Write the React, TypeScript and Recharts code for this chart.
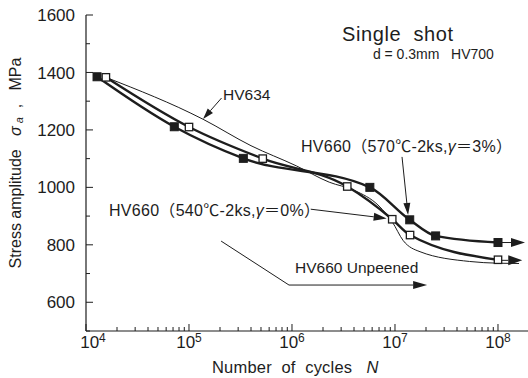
import React from "react";
import { ComposedChart, Line, XAxis, YAxis, ReferenceLine, ReferenceDot } from "recharts";

const INK = "#1d1d1d";
const FONT = "'Liberation Sans', Arial, 'Noto Sans CJK JP', sans-serif";

// HV660 (570°C-2ks, γ=3%) – filled squares
const hv570Cycles = [1.28e4, 7.2e4, 3.37e5, 5.7e6, 1.39e7, 2.48e7, 1e8];
const hv570Stress = [1385, 1211, 1101, 1000, 887, 831, 808];

// HV660 (540°C-2ks, γ=0%) – open squares
const hv540Cycles = [1.56e4, 1e5, 5.2e5, 3.44e6, 9.4e6, 1.4e7, 1e8];
const hv540Stress = [1383, 1210, 1100, 1003, 889, 834, 748];

// HV634 – thin curve, no markers
const hv634Cycles = [1.56e4, 1.37e5, 4e5, 1.1e6, 2.3e6, 4e6, 7e6, 9.4e6, 1.2e7, 1.75e7, 5.3e7, 1e8, 1.6e8];
const hv634Stress = [1383, 1237, 1145, 1075, 1018, 990, 935, 880, 815, 776, 742, 736, 735];

const cycleTicks = [
  1e4, 2e4, 3e4, 4e4, 5e4, 6e4, 7e4, 8e4, 9e4,
  1e5, 2e5, 3e5, 4e5, 5e5, 6e5, 7e5, 8e5, 9e5,
  1e6, 2e6, 3e6, 4e6, 5e6, 6e6, 7e6, 8e6, 9e6,
  1e7, 2e7, 3e7, 4e7, 5e7, 6e7, 7e7, 8e7, 9e7,
  1e8,
];
const stressTicks = [500, 600, 700, 800, 900, 1000, 1100, 1200, 1300, 1400, 1500, 1600];
const stressLabels = [600, 800, 1000, 1200, 1400, 1600];

const zip = (ns: number[], ss: number[]) => ns.map((n, i) => ({ n, s: ss[i] }));
const hv570 = zip(hv570Cycles, hv570Stress);
const hv540 = zip(hv540Cycles, hv540Stress);
const hv634 = zip(hv634Cycles, hv634Stress);

const isDecade = (v: number) => {
  const e = Math.round(Math.log10(v));
  return Math.abs(v - 10 ** e) < v * 1e-6;
};

const BottomTick = ({ x, y, payload }: any) => {
  const v = payload.value;
  const e = Math.round(Math.log10(v));
  const major = isDecade(v);
  return (
    <g>
      <line x1={x} y1={y} x2={x} y2={y - (major ? 7 : 4)} stroke={INK} />
      {major && (
        <text x={x + (e === 4 ? 7 : 0)} y={y + 17} textAnchor="middle" fontSize={17} fill={INK}>
          10<tspan fontSize={12} dy={-6}>{e}</tspan>
        </text>
      )}
    </g>
  );
};

const TopTick = ({ x, y, payload }: any) => (
  <line x1={x} y1={y} x2={x} y2={y + (isDecade(payload.value) ? 6 : 3)} stroke={INK} />
);

const LeftTick = ({ x, y, payload }: any) => {
  const v = payload.value;
  const major = v % 200 === 0;
  return (
    <g>
      <line x1={x} y1={y} x2={x + (major ? 7 : 4)} y2={y} stroke={INK} />
      {stressLabels.includes(v) && (
        <text x={x - 11} y={y} dy="0.36em" textAnchor="end" fontSize={17} fill={INK}>
          {v}
        </text>
      )}
    </g>
  );
};

const RightTick = ({ x, y, payload }: any) => (
  <line x1={x} y1={y} x2={x - (payload.value % 200 === 0 ? 6 : 4)} y2={y} stroke={INK} />
);

const filledSquare = (p: any) => (
  <rect key={`f${p.index}`} x={p.cx - 4} y={p.cy - 4} width={8} height={8} fill={INK} stroke={INK} />
);
const openSquare = (p: any) => (
  <rect key={`o${p.index}`} x={p.cx - 3.7} y={p.cy - 3.7} width={7.4} height={7.4} fill="#fff" stroke={INK} strokeWidth={1.3} />
);

const arrow = (head = 13, half = 4, width = 1) => (p: any) => {
  const { x1, y1, x2, y2 } = p;
  const dx = x2 - x1;
  const dy = y2 - y1;
  const len = Math.hypot(dx, dy) || 1;
  const ux = dx / len;
  const uy = dy / len;
  const bx = x2 - ux * head;
  const by = y2 - uy * head;
  const pts = `${x2},${y2} ${bx - uy * half},${by + ux * half} ${bx + uy * half},${by - ux * half}`;
  return (
    <g>
      <line x1={x1} y1={y1} x2={bx} y2={by} stroke={INK} strokeWidth={width} />
      <polygon points={pts} fill={INK} />
    </g>
  );
};

const plainLine = (p: any) => <line x1={p.x1} y1={p.y1} x2={p.x2} y2={p.y2} stroke={INK} strokeWidth={1} />;

const note = (content: React.ReactNode, size = 15, spacing = 0) => (p: any) => (
  <text x={p.cx} y={p.cy} fontSize={size} letterSpacing={spacing} fill={INK} style={{ whiteSpace: "pre" }}>
    {content}
  </text>
);

const StressLabel = ({ viewBox }: any) => {
  const cx = viewBox.x + 15;
  const cy = viewBox.y + viewBox.height / 2 - 10;
  return (
    <text
      x={cx}
      y={cy}
      transform={`rotate(-90 ${cx} ${cy})`}
      textAnchor="middle"
      dominantBaseline="central"
      fontSize={16}
      fill={INK}
      style={{ whiteSpace: "pre" }}
    >
      {"Stress amplitude   "}
      <tspan fontStyle="italic">σ</tspan>
      <tspan fontStyle="italic" fontSize={11} dy={4}>
        {" a"}
      </tspan>
      <tspan dy={-4}>{"  ,   MPa"}</tspan>
    </text>
  );
};

const CyclesLabel = ({ viewBox }: any) => (
  <text x={viewBox.x + 126} y={viewBox.y + 42} fontSize={16.5} letterSpacing={0.2} fill={INK} style={{ whiteSpace: "pre" }}>
    {"Number  of  cycles   "}
    <tspan fontStyle="italic">N</tspan>
  </text>
);

export default function App() {
  return (
    <div style={{ position: "fixed", left: 0, top: 0, width: 528, height: 378, overflow: "hidden", background: "#fff", fontFamily: FONT }}>
      <ComposedChart width={531} height={378} margin={{ top: 15, right: 2, bottom: 0, left: 0 }}>
        <XAxis
          dataKey="n"
          type="number"
          scale="log"
          domain={[1e4, 2e8]}
          allowDataOverflow
          ticks={cycleTicks}
          interval={0}
          tickSize={0}
          tickMargin={0}
          tick={<BottomTick />}
          height={47}
          axisLine={{ stroke: INK, strokeWidth: 1.2 }}
          label={<CyclesLabel />}
        />
        <XAxis
          xAxisId="top"
          orientation="top"
          dataKey="n"
          type="number"
          scale="log"
          domain={[1e4, 2e8]}
          allowDataOverflow
          ticks={cycleTicks}
          interval={0}
          tickSize={0}
          tickMargin={0}
          tick={<TopTick />}
          height={0}
          axisLine={{ stroke: INK, strokeWidth: 1.2 }}
        />
        <YAxis
          type="number"
          domain={[500, 1600]}
          allowDataOverflow
          ticks={stressTicks}
          interval={0}
          tickSize={0}
          tickMargin={0}
          tick={<LeftTick />}
          width={86}
          axisLine={{ stroke: INK, strokeWidth: 1.2 }}
          label={<StressLabel />}
        />
        <YAxis
          yAxisId="right"
          orientation="right"
          type="number"
          domain={[500, 1600]}
          allowDataOverflow
          ticks={stressTicks}
          interval={0}
          tickSize={0}
          tickMargin={0}
          tick={<RightTick />}
          width={0}
          axisLine={{ stroke: INK, strokeWidth: 1.2 }}
        />

        <Line data={hv634} dataKey="s" type="monotone" stroke={INK} strokeWidth={1} dot={false} isAnimationActive={false} />
        <Line data={hv540} dataKey="s" type="monotone" stroke={INK} strokeWidth={2.4} dot={openSquare} isAnimationActive={false} />
        <Line data={hv570} dataKey="s" type="monotone" stroke={INK} strokeWidth={2.4} dot={filledSquare} isAnimationActive={false} />

        {/* run-out arrows */}
        <ReferenceLine segment={[{ x: 1.04e8, y: 808 }, { x: 1.83e8, y: 808 }]} ifOverflow="visible" shape={arrow(14, 4.5)} />
        <ReferenceLine segment={[{ x: 1.04e8, y: 746 }, { x: 1.72e8, y: 746 }]} ifOverflow="visible" shape={arrow(14, 5)} />

        {/* leaders */}
        <ReferenceLine segment={[{ x: 2.07e5, y: 1311 }, { x: 1.37e5, y: 1238 }]} ifOverflow="visible" shape={arrow(11, 3.5)} />
        <ReferenceLine segment={[{ x: 1.17e7, y: 1106 }, { x: 1.34e7, y: 904 }]} ifOverflow="visible" shape={arrow(12, 3.5)} />
        <ReferenceLine segment={[{ x: 1.52e6, y: 924 }, { x: 8.3e6, y: 892 }]} ifOverflow="visible" shape={arrow(13, 4)} />
        <ReferenceLine segment={[{ x: 2.05e5, y: 813 }, { x: 9.35e5, y: 660 }]} ifOverflow="visible" shape={plainLine} />
        <ReferenceLine segment={[{ x: 9.35e5, y: 660 }, { x: 2.05e7, y: 660 }]} ifOverflow="visible" shape={arrow(14, 4)} />

        {/* text */}
        <ReferenceDot x={3.06e6} y={1510} ifOverflow="visible" shape={note("Single  shot", 20, 0.6)} />
        <ReferenceDot x={6.1e6} y={1447} ifOverflow="visible" shape={note("d = 0.3mm   HV700", 14)} />
        <ReferenceDot x={2.14e5} y={1304} ifOverflow="visible" shape={note("HV634", 15.5)} />
        <ReferenceDot
          x={1.22e6}
          y={1123}
          ifOverflow="visible"
          shape={note(
            <>
              {"HV660（570℃-2ks,"}
              <tspan fontStyle="italic">γ</tspan>
              {"＝3%）"}
            </>,
            16,
            0.3
          )}
        />
        <ReferenceDot
          x={1.67e4}
          y={900}
          ifOverflow="visible"
          shape={note(
            <>
              {"HV660（540℃-2ks,"}
              <tspan fontStyle="italic">γ</tspan>
              {"＝0%）"}
            </>,
            16,
            0.3
          )}
        />
        <ReferenceDot x={1.07e6} y={702} ifOverflow="visible" shape={note("HV660 Unpeened", 15.5)} />
      </ComposedChart>
    </div>
  );
}
